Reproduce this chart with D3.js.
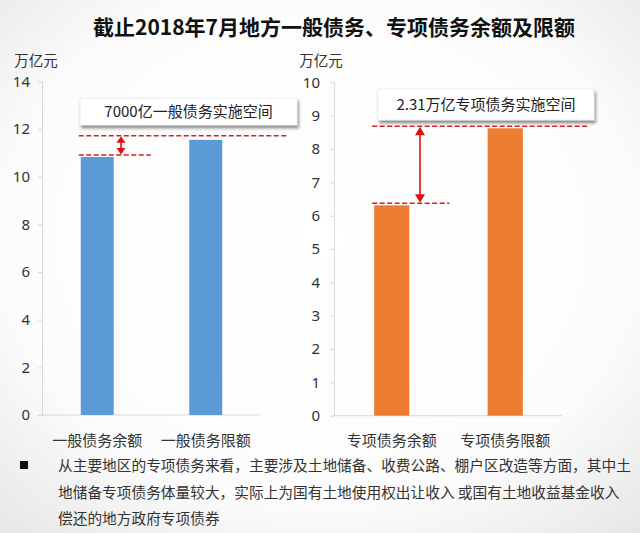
<!DOCTYPE html>
<html><head><meta charset="utf-8">
<script src="https://cdn.jsdelivr.net/npm/d3@7"></script>
<style>
html,body{margin:0;padding:0;background:#fff;}
svg{display:block;font-family:"Noto Sans CJK SC","Noto Sans",sans-serif;}
</style></head>
<body>
<svg id="c" width="640" height="533"></svg>
<script>
const title = "截止2018年7月地方一般债务、专项债务余额及限额";
const unitLabel = "万亿元";
const leftCats = ["一般债务余额", "一般债务限额"];
const leftVals = [10.83, 11.55];
const leftTicks = [0, 2, 4, 6, 8, 10, 12, 14];
const leftNote = "7000亿一般债务实施空间";
const rightCats = ["专项债务余额", "专项债务限额"];
const rightVals = [6.31, 8.62];
const rightTicks = [0, 1, 2, 3, 4, 5, 6, 7, 8, 9, 10];
const rightNote = "2.31万亿专项债务实施空间";
const bulletLines = [
  "从主要地区的专项债务来看，主要涉及土地储备、收费公路、棚户区改造等方面，其中土",
  "地储备专项债务体量较大，实际上为国有土地使用权出让收入 或国有土地收益基金收入",
  "偿还的地方政府专项债券"
];

const svg = d3.select("#c");
const defs = svg.append("defs");
const rg = defs.append("radialGradient").attr("id","bg").attr("cx","50%").attr("cy","45%").attr("r","75%");
rg.append("stop").attr("offset","0%").attr("stop-color","#ffffff");
rg.append("stop").attr("offset","65%").attr("stop-color","#fcfcfc");
rg.append("stop").attr("offset","100%").attr("stop-color","#e6e6e6");
svg.append("rect").attr("width",640).attr("height",533).attr("fill","url(#bg)");
const f = defs.append("filter").attr("id","sh").attr("x","-10%").attr("y","-30%").attr("width","130%").attr("height","180%");
f.append("feDropShadow").attr("dx",1.5).attr("dy",3).attr("stdDeviation",1.8).attr("flood-color","#000").attr("flood-opacity",0.45);

svg.append("text").attr("x",334).attr("y",35).attr("text-anchor","middle")
  .attr("font-size",21).attr("font-weight","bold").attr("fill","#111").text(title);

function panel(cfg){
  const x = d3.scaleBand().domain(cfg.cats).range(cfg.xr).paddingInner(cfg.pad).paddingOuter(cfg.pad/2);
  const y = d3.scaleLinear().domain([0, cfg.max]).range(cfg.yr);
  const g = svg.append("g");
  const ax = g.append("g").attr("transform",`translate(${cfg.xr[0]},0)`)
    .call(d3.axisLeft(y).tickValues(cfg.ticks).tickSize(5).tickPadding(cfg.tp).tickFormat(d3.format("d")));
  ax.select(".domain").attr("stroke","#d9d9d9").attr("d",`M-0.5,${cfg.yr[1]}V${cfg.yr[0]}`);
  ax.selectAll(".tick line").attr("stroke","#d9d9d9");
  ax.selectAll(".tick text").attr("font-size",15).attr("fill","#333").attr("font-family","'Noto Sans','Noto Sans CJK SC',sans-serif");
  g.append("line").attr("x1",cfg.xr[0]-3).attr("x2",cfg.xr[1]).attr("y1",y(0)).attr("y2",y(0))
    .attr("stroke","#d9d9d9").attr("stroke-width",1);
  g.selectAll("rect.bar").data(cfg.cats).join("rect").attr("class","bar")
    .attr("x",d=>x(d)).attr("width",x.bandwidth())
    .attr("y",(d,i)=>y(cfg.vals[i])).attr("height",(d,i)=>y(0)-y(cfg.vals[i]))
    .attr("fill",cfg.color);
  g.append("text").attr("x",cfg.unitX).attr("y",66).attr("text-anchor","middle")
    .attr("font-size",14.5).attr("fill","#333").text(unitLabel);
  g.selectAll("text.cat").data(cfg.cats).join("text").attr("class","cat")
    .attr("x",d=>x(d)+x.bandwidth()/2).attr("y",446).attr("text-anchor","middle")
    .attr("font-size",15).attr("fill","#333").text(d=>d);
  const x0 = x(cfg.cats[0]) - 2;
  const yLow = y(cfg.vals[0]) - 2, yHigh = y(cfg.vals[1]) - cfg.hiOff;
  g.append("line").attr("x1",x0).attr("x2",x(cfg.cats[0])+x.bandwidth()+cfg.lowExt)
    .attr("y1",yLow).attr("y2",yLow).attr("stroke","#d42020").attr("stroke-width",1.5).attr("stroke-dasharray","5,2.5");
  g.append("line").attr("x1",x0).attr("x2",x(cfg.cats[1])+x.bandwidth()+cfg.hiExt)
    .attr("y1",yHigh).attr("y2",yHigh).attr("stroke","#d42020").attr("stroke-width",1.5).attr("stroke-dasharray","5,2.5");
  const axp = cfg.arrowX, hw = cfg.hw, hl = cfg.hl;
  g.append("line").attr("x1",axp).attr("x2",axp).attr("y1",yHigh+hl-1).attr("y2",yLow-hl+1)
    .attr("stroke","#e01010").attr("stroke-width",1.6);
  g.append("path").attr("d",`M${axp},${yHigh+0.5}L${axp-hw},${yHigh+hl}L${axp+hw},${yHigh+hl}Z`).attr("fill","#e01010");
  g.append("path").attr("d",`M${axp},${yLow-0.5}L${axp-hw},${yLow-hl}L${axp+hw},${yLow-hl}Z`).attr("fill","#e01010");
  g.append("rect").attr("x",cfg.box[0]).attr("y",cfg.box[1]).attr("width",cfg.box[2]).attr("height",cfg.box[3])
    .attr("fill","#fff").attr("stroke","#e4e4e4").attr("stroke-width",0.6).attr("filter","url(#sh)");
  g.append("text").attr("x",cfg.box[0]+cfg.box[2]/2).attr("y",cfg.box[1]+cfg.box[3]/2+5.5)
    .attr("text-anchor","middle").attr("font-size",15).attr("fill","#222").text(cfg.note);
}

panel({cats:leftCats, vals:leftVals, ticks:leftTicks, max:14, xr:[43,260], yr:[415,81.5], pad:0.696,
  color:"#5b9bd5", unitX:36, tp:8, hiOff:4, lowExt:37, hiExt:65, arrowX:121, hw:4.5, hl:7,
  box:[80,98,217,27], note:leftNote});
panel({cats:rightCats, vals:rightVals, ticks:rightTicks, max:10, xr:[335,562], yr:[415.7,82.3], pad:0.69,
  color:"#ed7d31", unitX:321, tp:10, hiOff:2, lowExt:40, hiExt:65, arrowX:420, hw:5, hl:9,
  box:[378,89,216,31], note:rightNote});

svg.append("rect").attr("x",20).attr("y",461).attr("width",8).attr("height",8).attr("fill","#111");
svg.append("g").selectAll("text").data(bulletLines).join("text")
  .attr("x",58).attr("y",(d,i)=>471+i*26.5).attr("font-size",14.7).attr("fill","#333").text(d=>d);
</script>
</body></html>
